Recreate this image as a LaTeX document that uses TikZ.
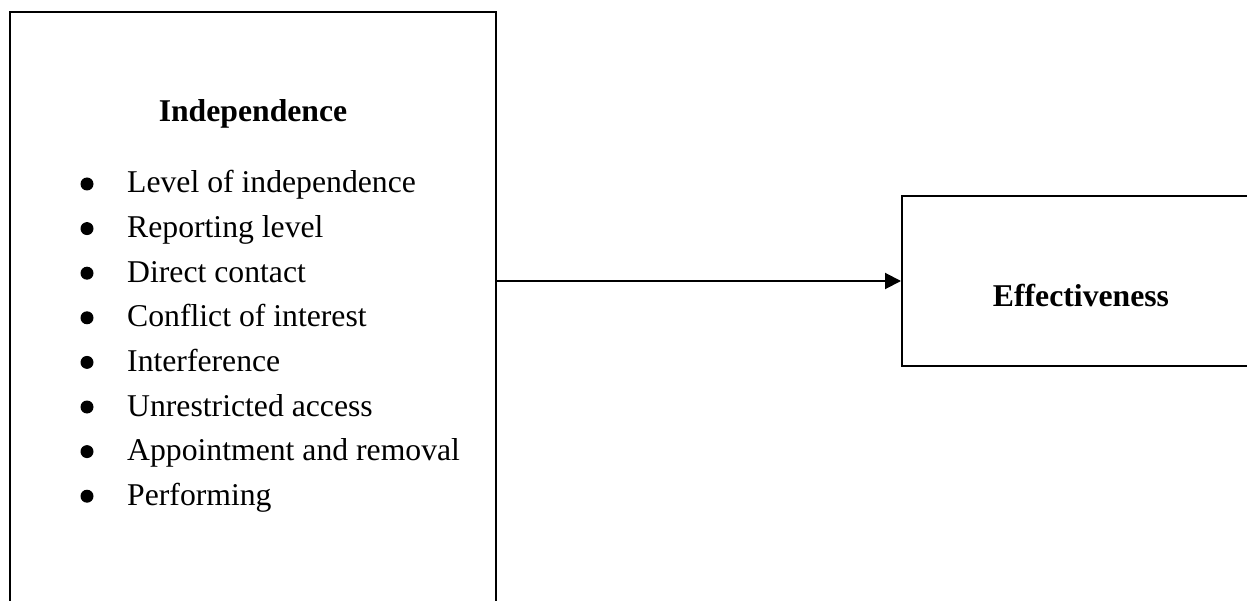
\documentclass[tikz,border=0pt]{standalone}
\usepackage{fontspec}
\setmainfont{Liberation Serif}
\usetikzlibrary{arrows.meta}
\begin{document}
\begin{tikzpicture}[x=1pt,y=-1pt,
  frame/.style={draw=black,line width=2pt,rectangle,inner sep=0pt},
  itemtext/.style={anchor=base west,inner sep=0pt,font=\fontsize{31.7}{38}\selectfont},
  headtext/.style={anchor=base,inner sep=0pt,font=\fontsize{31.7}{38}\selectfont\bfseries},
  bulletdot/.style={circle,fill=black,inner sep=0pt,minimum size=13pt},
  link/.style={line width=2pt,-{Triangle[length=16pt,width=16pt]}}]
\clip (0,0) rectangle (1247,601);
\fill[white] (0,0) rectangle (1247,601);
% boxes
\node[frame,minimum width=486pt,minimum height=640pt] (indep) at (253,332) {};
\node[frame,minimum width=358pt,minimum height=169pt] (eff) at (1081,281) {};
% texts
\node[headtext] (title) at (253,121.7) {Independence};
\node[headtext] (efftext) at (1081,306.7) {Effectiveness};
\foreach \i/\t in {0/Level of independence,1/Reporting level,2/Direct contact,3/Conflict of interest,4/Interference,5/Unrestricted access,6/Appointment and removal,7/Performing}{
  \node[itemtext] (item\i) at (127,193+44.6*\i) {\t};
  \node[bulletdot] (dot\i) at (87,184+44.6*\i) {};
}
% connector
\draw[link] (eff.west -| indep.east) -- (eff.west);
\end{tikzpicture}
\end{document}
